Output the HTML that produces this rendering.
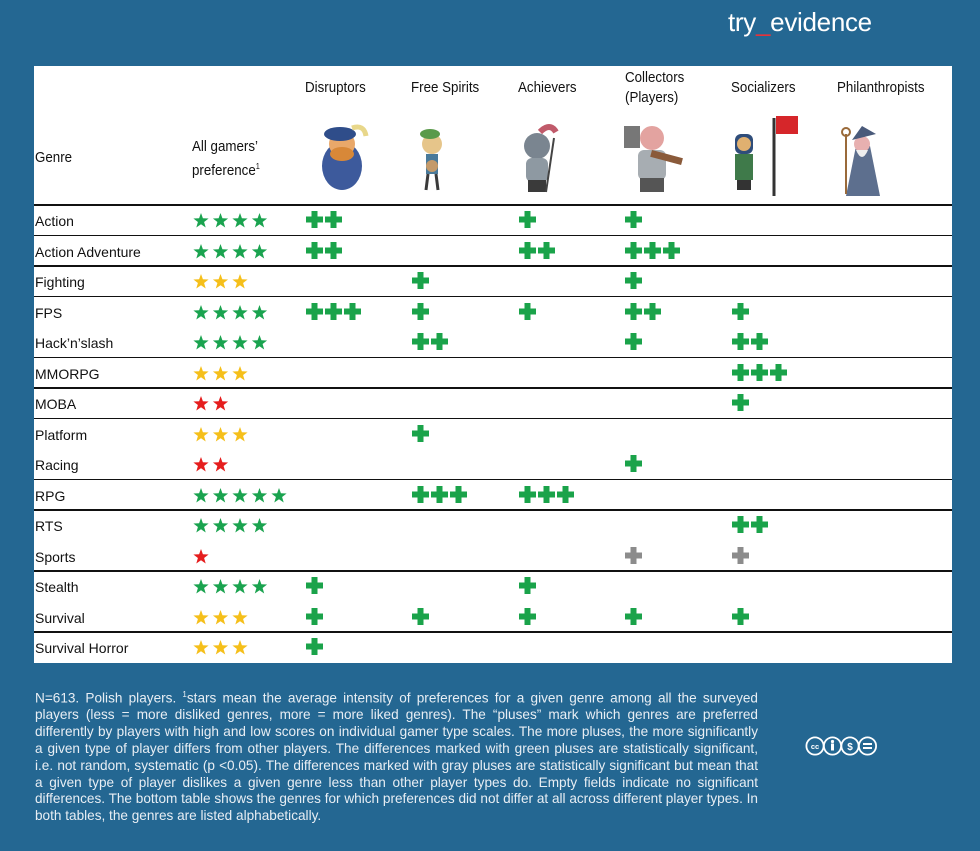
<!DOCTYPE html>
<html><head><meta charset="utf-8">
<style>
body{margin:0;width:980px;height:851px;background:#246792;position:relative;overflow:hidden;font-family:"Liberation Sans",sans-serif}
#logo{position:absolute;left:728px;top:7px;font-family:"Liberation Sans",sans-serif;font-size:26px;color:#fff;letter-spacing:-0.3px}
#logo span{color:#e5333a}
#tbl{position:absolute;left:34px;top:66px;width:918px;height:597px;background:#fff}
.h{position:absolute;font-family:"Liberation Sans",sans-serif;font-size:14.5px;color:#111;line-height:20px;transform:scaleX(0.92);transform-origin:left top;white-space:nowrap}
.g{position:absolute;font-size:14px;color:#111}
.ln{position:absolute;left:0;width:918px;height:1.5px;background:#111}
#foot{position:absolute;left:35px;top:687px;width:723px;font-family:"Liberation Sans",sans-serif;font-size:13.6px;line-height:16.8px;color:#e8eef4;text-align:justify}
#cc{position:absolute;left:804px;top:734px}
</style></head><body>
<div id="logo">try<span>_</span>evidence</div>
<div id="tbl">
<div class="h" style="left:1px;top:82px">Genre</div>
<div class="h" style="left:158px;top:71px">All gamers’<br>preference<sup style="font-size:8px">1</sup></div>
<div class="h" style="left:271px;top:12px">Disruptors</div>
<div class="h" style="left:377px;top:12px">Free Spirits</div>
<div class="h" style="left:484px;top:12px">Achievers</div>
<div class="h" style="left:591px;top:2px">Collectors<br>(Players)</div>
<div class="h" style="left:697px;top:12px">Socializers</div>
<div class="h" style="left:803px;top:12px">Philanthropists</div>
<svg style="position:absolute;left:0;top:0" width="918" height="140">
 <g><ellipse cx="308" cy="100" rx="20" ry="24" fill="#3d5a9c"/><circle cx="308" cy="78" r="13" fill="#e9a86a"/><ellipse cx="306" cy="68" rx="16" ry="7" fill="#2f4d8a"/><path d="M318 62 q12 -4 14 8" stroke="#e8d78a" stroke-width="5" fill="none"/><ellipse cx="308" cy="88" rx="12" ry="7" fill="#d88838"/></g>
 <g><circle cx="398" cy="78" r="10" fill="#e6c58a"/><ellipse cx="396" cy="68" rx="10" ry="5" fill="#5a9a4a"/><rect x="392" y="88" width="12" height="20" fill="#4a7a9a"/><circle cx="398" cy="100" r="6" fill="#c49a6a"/><line x1="394" y1="108" x2="392" y2="124" stroke="#3a3a3a" stroke-width="3"/><line x1="402" y1="108" x2="404" y2="124" stroke="#3a3a3a" stroke-width="3"/></g>
 <g><circle cx="503" cy="80" r="13" fill="#7a8590"/><rect x="492" y="92" width="22" height="24" rx="6" fill="#8e99a2"/><rect x="494" y="114" width="18" height="12" fill="#3a3a3a"/><path d="M506 66 q10 -10 16 0" stroke="#c05a6a" stroke-width="6" fill="none"/><line x1="520" y1="72" x2="512" y2="126" stroke="#444" stroke-width="2"/></g>
 <g><rect x="590" y="60" width="16" height="22" fill="#777"/><circle cx="618" cy="72" r="12" fill="#e3a3a0"/><rect x="604" y="84" width="28" height="30" rx="6" fill="#a7adb2"/><rect x="606" y="112" width="24" height="14" fill="#555"/><rect x="618" y="84" width="32" height="7" fill="#8a5a3a" transform="rotate(15 618 84)"/></g>
 <g><rect x="701" y="68" width="18" height="20" rx="6" fill="#2f4d7a"/><circle cx="710" cy="78" r="7" fill="#e0b070"/><rect x="701" y="88" width="18" height="26" fill="#3f7a4a"/><rect x="703" y="114" width="14" height="10" fill="#333"/><line x1="740" y1="52" x2="740" y2="130" stroke="#333" stroke-width="3"/><rect x="742" y="50" width="22" height="18" fill="#d6262a"/></g>
 <g><path d="M812 130 l10 -50 l14 0 l10 50 z" fill="#5d6f8e"/><circle cx="828" cy="78" r="8" fill="#e7b0b0"/><path d="M818 74 l10 -14 l14 8 z" fill="#4a5a7a"/><path d="M822 84 q6 14 12 0" fill="#eee"/><line x1="812" y1="68" x2="812" y2="128" stroke="#9a6a3a" stroke-width="2"/><circle cx="812" cy="66" r="4" fill="none" stroke="#9a6a3a" stroke-width="2"/></g>
</svg>
</div>
<div id="foot">N=613. Polish players. <sup style="font-size:8px">1</sup>stars mean the average intensity of preferences for a given genre among all the surveyed players (less = more disliked genres, more = more liked genres). The “pluses” mark which genres are preferred differently by players with high and low scores on individual gamer type scales. The more pluses, the more significantly a given type of player differs from other players. The differences marked with green pluses are statistically significant, i.e. not random, systematic (p &lt;0.05). The differences marked with gray pluses are statistically significant but mean that a given type of player dislikes a given genre less than other player types do. Empty fields indicate no significant differences. The bottom table shows the genres for which preferences did not differ at all across different player types. In both tables, the genres are listed alphabetically.</div>
<svg id="cc" width="74" height="24">
 <g fill="none" stroke="#fff" stroke-width="1.8"><circle cx="11" cy="12" r="8.6"/><circle cx="28.5" cy="12" r="8.6"/><circle cx="46" cy="12" r="8.6"/><circle cx="63.5" cy="12" r="8.6"/></g>
 <text x="11" y="15" font-size="7.5" fill="#fff" text-anchor="middle" font-family="Liberation Sans" font-weight="bold">cc</text>
 <circle cx="28.5" cy="7.5" r="1.6" fill="#fff"/><rect x="27" y="9.5" width="3" height="7" fill="#fff"/>
 <text x="46" y="16" font-size="10" fill="#fff" text-anchor="middle" font-family="Liberation Sans" font-weight="bold">$</text>
 <rect x="59" y="9" width="9" height="2" fill="#fff"/><rect x="59" y="13" width="9" height="2" fill="#fff"/>
</svg>
<script>
const genres=["Action","Action Adventure","Fighting","FPS","Hack’n’slash","MMORPG","MOBA","Platform","Racing","RPG","RTS","Sports","Stealth","Survival","Survival Horror"];
const stars=[4,4,3,4,4,3,2,3,2,5,4,1,4,3,3];
const disruptors=[2,2,0,3,0,0,0,0,0,0,0,0,1,1,1];
const freeSpirits=[0,0,1,1,2,0,0,1,0,3,0,0,0,1,0];
const achievers=[1,2,0,1,0,0,0,0,0,3,0,0,1,1,0];
const collectors=[1,3,1,2,1,0,0,0,1,0,0,1,0,1,0];
const socializers=[0,0,0,1,2,3,1,0,0,0,2,1,0,1,0];
const philanthropists=[0,0,0,0,0,0,0,0,0,0,0,0,0,0,0];
const grayRows=["Sports"];
const ruledAfter=[0,1,2,4,5,6,8,9,11,13];
const tbl=document.getElementById('tbl');
const top0=139,rowH=30.5;
const rowY=i=>top0+i*rowH;
const ns="http://www.w3.org/2000/svg";
function starColor(n){return n>=4?"#1aa34f":n==3?"#f5bf1a":"#e51d1d";}
const line0=document.createElement('div');line0.className='ln';line0.style.top=(top0-1)+'px';


tbl.appendChild(line0);
const cols=[disruptors,freeSpirits,achievers,collectors,socializers,philanthropists];
const colNames=['disruptors','free-spirits','achievers','collectors','socializers','philanthropists'];
const colX=[271,377,484,590,697,803];
genres.forEach((g,i)=>{
 const y=rowY(i);
 const t=document.createElement('div');t.className='g';t.textContent=g;
 t.style.left='1px';t.style.top=(y+8)+'px';
 
 
 tbl.appendChild(t);
 const s=document.createElementNS(ns,'svg');s.setAttribute('width','110');s.setAttribute('height','30');
 s.style.position='absolute';s.style.left='158px';s.style.top=y+'px';
 
 
 for(let k=0;k<stars[i];k++){
  const p=document.createElementNS(ns,'polygon');
  const cx=9+k*19.5,cy=16,R=8,r=3.3;let pts=[];
  for(let m=0;m<10;m++){const a=-Math.PI/2+m*Math.PI/5,rr=m%2?r:R;pts.push((cx+rr*Math.cos(a)).toFixed(1)+','+(cy+rr*Math.sin(a)).toFixed(1));}
  p.setAttribute('points',pts.join(' '));p.setAttribute('fill',starColor(stars[i]));
  s.appendChild(p);
 }
 tbl.appendChild(s);
 cols.forEach((arr,c)=>{
  if(!arr[i])return;
  const sv=document.createElementNS(ns,'svg');sv.setAttribute('width','70');sv.setAttribute('height','30');
  sv.style.position='absolute';sv.style.left=colX[c]+'px';sv.style.top=y+'px';
  
  
  const col=grayRows.includes(g)?"#8c8c8c":"#1aa34a";
  for(let k=0;k<arr[i];k++){
   const x=1+k*19;
   const a=document.createElementNS(ns,'path');
   a.setAttribute('d',`M${x+5.5} 6h6v5.5h5.5v6h-5.5v5.5h-6v-5.5h-5.5v-6h5.5z`);
   a.setAttribute('fill',col);sv.appendChild(a);
  }
  tbl.appendChild(sv);
 });
 if(ruledAfter.includes(i)){
  const l=document.createElement('div');l.className='ln';l.style.top=(rowY(i+1)-1)+'px';
  
  
  tbl.appendChild(l);
 }
});
</script>
</body></html>
